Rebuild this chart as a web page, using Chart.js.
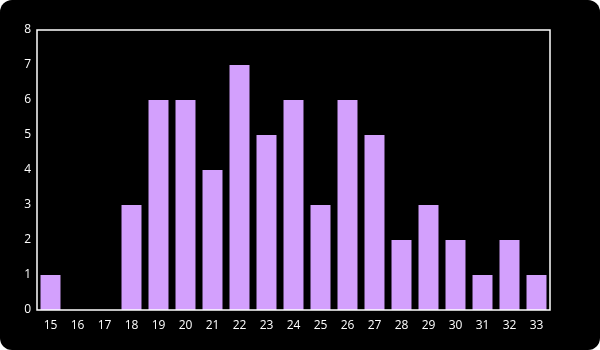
<!DOCTYPE html>
<html>
<head>
<meta charset="UTF-8">
<script src="https://cdn.jsdelivr.net/npm/chart.js"></script>
<style>
    html, body {
        margin: 0;
        padding: 0;
        background: #ffffff;
    }
    .box {
        width: 600px;
        height: 350px;
        background: #000000;
        border-radius: 12px;
        overflow: hidden;
    }
    canvas {
        display: block;
    }
</style>
</head>
<body>
<div class="box">
    <canvas id="chart" width="600" height="350"></canvas>
</div>
<script>
    const ages = ['15', '16', '17', '18', '19', '20', '21', '22', '23', '24', '25', '26', '27', '28', '29', '30', '31', '32', '33'];
    const counts = [1, 0, 0, 3, 6, 6, 4, 7, 5, 6, 3, 6, 5, 2, 3, 2, 1, 2, 1];
    const yTicks = [0, 1, 2, 3, 4, 5, 6, 7, 8];

    // white frame round the plot area
    const frame = {
        id: 'frame',
        afterDatasetsDraw(chart) {
            const a = chart.chartArea;
            const ctx = chart.ctx;
            ctx.save();
            ctx.strokeStyle = '#ffffff';
            ctx.lineWidth = 1.5;
            ctx.strokeRect(a.left, a.top, a.right - a.left, a.bottom - a.top);
            ctx.restore();
        }
    };

    const tickFont = { family: "'Open Sans', sans-serif", size: 12 };

    new Chart(document.getElementById('chart'), {
        type: 'bar',
        data: {
            labels: ages,
            datasets: [{
                data: counts,
                backgroundColor: '#d3a0fd',
                borderWidth: 0,
                categoryPercentage: 1,
                barPercentage: 0.74
            }]
        },
        options: {
            responsive: false,
            animation: false,
            layout: { padding: { left: 0, right: 50, top: 30, bottom: 0 } },
            plugins: {
                legend: { display: false },
                tooltip: { enabled: false }
            },
            scales: {
                x: {
                    grid: { display: false, drawTicks: false },
                    border: { display: false },
                    afterFit(axis) { axis.height = 40; },
                    ticks: {
                        color: '#ffffff',
                        font: tickFont,
                        maxRotation: 0,
                        padding: 8
                    }
                },
                y: {
                    min: 0,
                    max: 8,
                    afterBuildTicks(axis) {
                        axis.ticks = yTicks.map(v => ({ value: v }));
                    },
                    afterFit(axis) { axis.width = 37; },
                    grid: { display: false, drawTicks: false },
                    border: { display: false },
                    ticks: {
                        color: '#ffffff',
                        font: tickFont,
                        padding: 6
                    }
                }
            }
        },
        plugins: [frame]
    });
</script>
</body>
</html>
